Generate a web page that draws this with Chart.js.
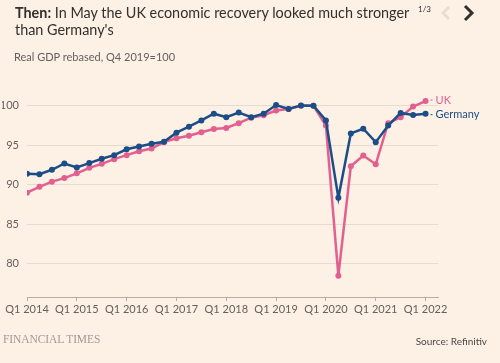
<!DOCTYPE html>
<html>
<head>
<meta charset="utf-8">
<script src="https://cdn.jsdelivr.net/npm/chart.js@4/dist/chart.umd.min.js"></script>
<style>
  html, body { margin: 0; padding: 0; background: #fdf0e5; }
  body { width: 500px; height: 363px; position: relative; overflow: hidden; font-family: Lato, "Open Sans", sans-serif; }
  #title { position: absolute; left: 15px; top: 4px; width: 420px; font-size: 14.4px; line-height: 17px; color: #33302e; }
  #title b { font-weight: 700; }
  #subtitle { position: absolute; left: 14px; top: 50px; font-size: 11px; color: #66605c; }
  #pager { position: absolute; left: 418px; top: 4px; font-size: 8px; color: #33302e; }
  #arrows { position: absolute; left: 438px; top: 4px; }
  #ft { position: absolute; left: 3px; top: 333px; font-family: "Liberation Serif", serif; font-size: 11.5px; color: #a39a92; letter-spacing: -0.1px; }
  #source { position: absolute; right: 13px; top: 335px; font-size: 10px; color: #4d4845; }
  #gdpChart { position: absolute; left: 0; top: 0; }
</style>
</head>
<body>
<canvas id="gdpChart" width="500" height="363"></canvas>
<div id="title"><b>Then:</b> In May the UK economic recovery looked much stronger<br>than Germany's</div>
<div id="subtitle">Real GDP rebased, Q4 2019=100</div>
<div id="pager">1/3</div>
<svg id="arrows" width="40" height="18">
  <polyline points="11,3 5,9 11,15" fill="none" stroke="#e6dcd3" stroke-width="2.5"/>
  <polyline points="27,2 34,9 27,16" fill="none" stroke="#33302e" stroke-width="3"/>
</svg>
<div id="ft">FINANCIAL TIMES</div>
<div id="source">Source: Refinitiv</div>
<script>
// quarters Q1 2014 .. Q1 2022
const quarters = [
  "Q1 2014", "Q2 2014", "Q3 2014", "Q4 2014",
  "Q1 2015", "Q2 2015", "Q3 2015", "Q4 2015",
  "Q1 2016", "Q2 2016", "Q3 2016", "Q4 2016",
  "Q1 2017", "Q2 2017", "Q3 2017", "Q4 2017",
  "Q1 2018", "Q2 2018", "Q3 2018", "Q4 2018",
  "Q1 2019", "Q2 2019", "Q3 2019", "Q4 2019",
  "Q1 2020", "Q2 2020", "Q3 2020", "Q4 2020",
  "Q1 2021", "Q2 2021", "Q3 2021", "Q4 2021",
  "Q1 2022",
];
const ukGdp = [
  89.0, 89.75, 90.4, 90.85, 91.45, 92.15, 92.65, 93.25,
  93.75, 94.25, 94.6, 95.4, 95.9, 96.2, 96.65, 97.05,
  97.2, 97.8, 98.5, 98.8, 99.4, 99.6, 100.0, 100.0,
  97.5, 78.5, 92.35, 93.7, 92.6, 97.8, 98.55, 99.9,
  100.6,
];
const germanyGdp = [
  91.4, 91.35, 91.9, 92.7, 92.2, 92.75, 93.3, 93.75,
  94.5, 94.85, 95.2, 95.45, 96.6, 97.35, 98.15, 99.0,
  98.55, 99.15, 98.55, 99.0, 100.1, 99.6, 100.05, 100.0,
  98.15, 88.35, 96.5, 97.1, 95.4, 97.5, 99.1, 98.85,
  99.0,
];
const yTicks = [80, 85, 90, 95, 100];

const ukColor = "#e2608f";
const deColor = "#1b4d86";

function toPoints(values) {
  return values.map((v, i) => ({ x: i, y: v }));
}

// Direct labels at the end of each line
const endLabels = {
  id: "endLabels",
  afterDatasetsDraw(chart) {
    const ctx = chart.ctx;
    ctx.save();
    ctx.font = "11px Lato, sans-serif";
    ctx.textBaseline = "middle";
    chart.data.datasets.forEach((ds, i) => {
      const pts = chart.getDatasetMeta(i).data;
      const last = pts[pts.length - 1];
      const y = last.y + ds.labelShift;
      ctx.strokeStyle = ds.borderColor;
      ctx.lineWidth = 1;
      ctx.beginPath();
      ctx.moveTo(last.x + 5, y);
      ctx.lineTo(last.x + 7, y);
      ctx.stroke();
      ctx.fillStyle = ds.borderColor;
      ctx.fillText(ds.label, last.x + 10, y);
    });
    ctx.restore();
  },
};

new Chart(document.getElementById("gdpChart"), {
  type: "line",
  data: {
    datasets: [
      {
        label: "Germany",
        data: toPoints(germanyGdp),
        borderColor: deColor,
        backgroundColor: deColor,
        borderWidth: 2.5,
        pointRadius: 3,
        pointBorderWidth: 0,
        tension: 0,
        labelShift: 1,
      },
      {
        label: "UK",
        data: toPoints(ukGdp),
        borderColor: ukColor,
        backgroundColor: ukColor,
        borderWidth: 2.5,
        pointRadius: 3,
        pointBorderWidth: 0,
        tension: 0,
        labelShift: -1,
      },
    ],
  },
  options: {
    responsive: false,
    animation: false,
    devicePixelRatio: 1,
    layout: { padding: { left: 2, right: 62, top: 90, bottom: 44 } },
    plugins: {
      legend: { display: false },
      tooltip: { enabled: false },
    },
    scales: {
      x: {
        type: "linear",
        min: 0,
        max: 33,
        // one tick per Q1
        afterBuildTicks: (scale) => {
          scale.ticks = quarters
            .map((q, i) => i)
            .filter((i) => i % 4 === 0)
            .map((i) => ({ value: i }));
        },
        afterFit: (scale) => { scale.height = 22; },
        ticks: {
          autoSkip: false,
          maxRotation: 0,
          padding: 2,
          color: "#66605c",
          font: { family: "Lato", size: 11 },
          callback: (v) => quarters[v],
        },
        grid: {
          drawOnChartArea: false,
          drawTicks: true,
          tickLength: 4,
          color: "#b8ada3",
        },
        border: { color: "#b8ada3", width: 1 },
      },
      y: {
        min: 75.8,
        max: 102,
        afterBuildTicks: (scale) => {
          scale.ticks = yTicks.map((v) => ({ value: v }));
        },
        afterFit: (scale) => { scale.width = 25; },
        ticks: {
          padding: 8,
          color: "#66605c",
          font: { family: "Lato", size: 11 },
        },
        grid: { color: "#e5dbd1", drawTicks: false },
        border: { display: false },
      },
    },
  },
  plugins: [endLabels],
});
</script>
</body>
</html>
